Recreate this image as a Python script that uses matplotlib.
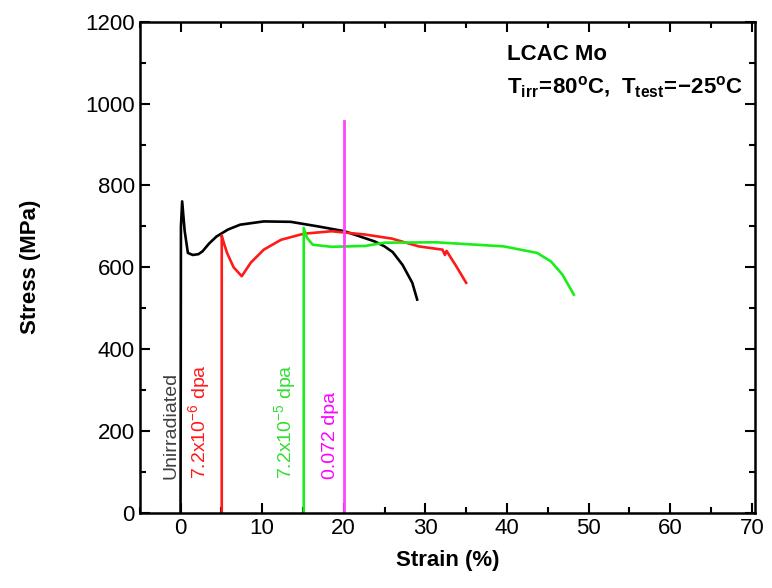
import matplotlib.pyplot as plt
from matplotlib.ticker import MultipleLocator

plt.rcParams['font.family'] = 'Liberation Sans'
plt.rcParams['mathtext.fontset'] = 'custom'
plt.rcParams['mathtext.rm'] = 'Liberation Sans'
plt.rcParams['mathtext.bf'] = 'Liberation Sans:bold'

# unirradiated
unirr_strain = [0.0, 0.05, 0.2, 0.5, 0.9, 1.5, 2.2, 2.7, 3.5, 4.4, 5.8, 7.3, 10.2,
                13.5, 16.8, 20.1, 23.8, 25.0, 26.0, 27.2, 28.4, 29.0]
unirr_stress = [0, 700, 761, 690, 635, 630, 632, 639, 658, 675, 692, 704, 712,
                711, 700, 688, 663, 651, 637, 606, 562, 521]

# 7.2x10^-6 dpa
d6_strain = [5.05, 5.05, 5.3, 5.7, 6.5, 7.5, 8.6, 10.2, 12.3, 15.1, 18.5, 22.6,
             25.9, 29.2, 32.1, 32.4, 32.6, 33.8, 35.0]
d6_stress = [0, 677, 660, 635, 600, 578, 611, 643, 667, 682, 688, 680,
             670, 651, 643, 630, 640, 602, 562]

# 7.2x10^-5 dpa
d5_strain = [15.1, 15.1, 15.5, 16.2, 18.5, 22.6, 25.0, 31.3, 39.6, 43.7, 45.4,
             46.8, 48.2]
d5_stress = [0, 696, 672, 655, 650, 652, 660, 661, 651, 635, 614, 582, 533]

# 0.072 dpa
d072_strain = [20.0, 20.0]
d072_stress = [0, 957]

fig = plt.figure(figsize=(7.72, 5.88), dpi=100)
ax = fig.add_axes([0.181, 0.128, 0.797, 0.835])

ax.plot(unirr_strain, unirr_stress, color='black', lw=1.9)
ax.plot(d6_strain, d6_stress, color='#ff1a1a', lw=1.9)
ax.plot(d5_strain, d5_stress, color='#1aee1a', lw=1.9)
ax.plot(d072_strain, d072_stress, color='#ff44ff', lw=2)

lab = dict(rotation=90, ha='center', va='bottom', fontsize=14)
ax.text(-1.2, 82, 'Unirradiated', color='#404040', **lab)
ax.text(2.4, 82, r'7.2x10$^{\mathregular{-6}}$ dpa', color='#ff1a1a', **lab)
ax.text(12.9, 82, r'7.2x10$^{\mathregular{-5}}$ dpa', color='#33dd33', **lab)
ax.text(18.4, 82, '0.072 dpa', color='#ff00ff', **lab)

ax.text(40, 1120, 'LCAC Mo', fontsize=16, fontweight='bold', va='center')
ax.text(40, 1040, r'$\mathbf{T_{irr}\!=\!80^{o}C,\ T_{test}\!=\!{-}25^{o}C}$',
        fontsize=16, va='center')

ax.set_xlim(-5, 70.4)
ax.set_ylim(0, 1200)
ax.xaxis.set_major_locator(MultipleLocator(10))
ax.xaxis.set_minor_locator(MultipleLocator(5))
ax.yaxis.set_major_locator(MultipleLocator(200))
ax.yaxis.set_minor_locator(MultipleLocator(100))
ax.tick_params(which='both', direction='in', top=True, right=True, width=1.5,
               labelsize=16)
ax.tick_params(which='major', length=7)
ax.tick_params(which='minor', length=4)
for s in ax.spines.values():
    s.set_linewidth(1.8)

ax.set_xlabel('Strain (%)', fontsize=16, fontweight='bold', labelpad=8)
ax.set_ylabel('Stress (MPa)', fontsize=16, fontweight='bold', labelpad=32)

fig.savefig('out.png')
